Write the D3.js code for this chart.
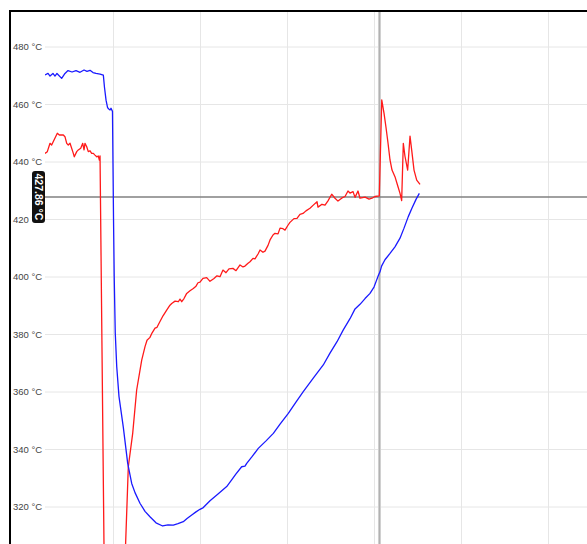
<!DOCTYPE html>
<html>
<head>
<meta charset="utf-8">
<script src="https://cdn.jsdelivr.net/npm/d3@7"></script>
<style>
  html, body { margin: 0; padding: 0; background: #fff; }
  svg { display: block; }
  text { font-family: "Liberation Sans", Arial, sans-serif; }
</style>
</head>
<body>
<svg id="chart" width="587" height="544"></svg>
<script>
// time in minutes, temperature in °C
const blueTime = [2.18,2.53,2.76,3.10,3.33,3.56,4.10,4.48,4.83,5.29,5.75,6.21,6.67,7.01,7.36,7.70,8.05,8.51,8.89,9.02,9.20,9.37,9.48,9.66,9.77,9.94,10.06,10.14,10.26,10.43,10.69,11.18,11.69,12.15,12.53,13.10,13.68,14.25,14.94,15.71,16.32,16.93,17.47,18.08,18.51,19.05,19.54,20.00,20.38,21.15,22.07,23.07,23.64,24.14,24.79,25.17,25.37,25.98,26.70,27.59,28.43,29.20,30.15,31.03,31.87,33.02,34.17,34.94,35.75,36.47,37.24,37.82,38.39,38.97,39.54,40.00,40.31,40.52,40.69,40.87,41.26,41.84,42.41,42.99,43.45,43.94,44.37,44.83,45.21];
const blueTemp = [470.3,470.8,469.9,470.8,469.9,470.8,469.1,470.8,471.8,471.3,471.8,471.2,472.0,471.5,471.9,471.1,470.8,470.6,470.2,466.0,461.5,459.0,458.5,458.1,458.7,457.6,420.0,400.0,380.5,368.8,358.4,347.9,335.2,328.2,325.0,321.3,318.5,316.6,314.5,313.4,313.8,313.7,314.2,314.9,316.0,317.2,318.3,319.2,319.8,322.2,324.5,327.1,329.4,331.5,334.0,334.2,335.2,337.5,340.4,343.0,345.6,348.8,352.6,356.5,360.1,364.8,369.4,373.5,377.5,381.6,385.5,388.9,390.5,392.5,394.3,396.5,399.0,400.7,401.8,403.8,406.0,408.2,410.5,413.5,417.0,421.0,424.0,427.0,429.1];

const redTime = [2.18,2.45,2.76,2.95,3.14,3.60,3.83,4.29,4.48,4.68,4.86,5.06,5.44,5.55,5.83,6.01,6.29,6.52,6.67,6.78,6.98,7.16,7.36,7.55,7.74,7.93,8.13,8.31,8.43,8.51,9.02,10.11,11.25,11.76,12.26,12.72,13.30,13.68,13.91,14.25,14.48,14.83,15.06,15.40,15.75,16.17,16.55,16.75,17.13,17.51,17.70,17.90,18.16,18.47,18.85,19.23,19.54,19.77,20.00,20.34,20.77,21.15,21.61,21.95,22.30,22.64,22.99,23.33,23.79,24.14,24.60,24.94,25.17,25.52,25.75,26.09,26.32,26.67,26.90,27.24,27.47,27.82,28.05,28.39,28.62,28.97,29.20,29.54,29.77,30.11,30.34,30.80,31.15,31.49,31.84,32.18,32.64,33.02,33.45,33.56,34.02,34.37,34.71,35.14,35.52,35.86,36.32,36.67,37.01,37.24,37.59,37.82,38.16,38.39,38.97,39.43,39.77,40.11,40.61,40.89,41.15,41.38,41.61,41.84,42.07,42.41,42.76,42.99,43.18,43.37,43.56,43.87,44.14,44.33,44.60,44.91,45.29];
const redTemp = [443.0,443.6,446.5,445.9,447.1,450.0,449.4,449.4,448.8,446.5,445.9,446.5,443.0,441.8,443.6,444.2,444.8,446.5,444.2,446.5,445.3,443.6,443.9,443.0,443.0,442.4,441.8,442.1,440.7,442.1,290.0,287.0,290.0,334.0,345.5,360.7,371.1,375.8,378.0,379.0,380.5,382.2,382.5,384.5,386.5,388.5,390.2,390.8,391.6,391.4,392.3,391.4,392.5,394.3,395.2,396.0,396.8,398.0,398.2,399.5,399.8,398.5,399.5,400.4,400.1,402.4,401.5,402.8,403.0,402.2,404.2,403.5,403.8,404.8,405.3,406.5,406.3,408.0,409.4,408.6,409.0,411.0,412.9,414.6,415.2,415.0,417.0,416.8,416.3,418.0,419.0,420.3,420.4,421.8,422.1,423.0,423.9,425.0,426.2,424.3,425.3,425.0,426.5,428.8,427.4,426.4,427.5,428.0,429.9,429.2,429.7,427.7,429.9,427.4,427.8,427.1,427.4,428.0,428.2,461.6,457.0,452.0,446.6,440.7,437.2,434.9,431.4,429.1,426.6,446.5,442.0,437.2,449.0,444.2,437.2,433.7,432.2];

const yTicks = [320, 340, 360, 380, 400, 420, 440, 460, 480];
const xTicks = [10, 20, 30, 40, 50, 60];
const crosshairTime = 40.63;
const crosshairTemp = 427.86;
const crosshairLabel = "427.86 °C";

const svg = d3.select("#chart");
const W = 587, H = 544;
const plotLeft = 45, plotTop = 12;

const x = d3.scaleLinear().domain([0, 60]).range([26, 548]);
const y = d3.scaleLinear().domain([320, 480]).range([507, 47]);

// clip
svg.append("defs").append("clipPath").attr("id", "clip")
  .append("rect").attr("x", plotLeft).attr("y", plotTop).attr("width", W - plotLeft).attr("height", H - plotTop);

// horizontal gridlines
svg.append("g").selectAll("line").data(yTicks).join("line")
  .attr("x1", plotLeft).attr("x2", W)
  .attr("y1", d => y(d)).attr("y2", d => y(d))
  .attr("stroke", "#e6e6e6").attr("stroke-width", 1);

// vertical gridlines
svg.append("g").selectAll("line").data(xTicks).join("line")
  .attr("x1", d => Math.round(x(d)) + 0.5).attr("x2", d => Math.round(x(d)) + 0.5)
  .attr("y1", plotTop).attr("y2", H)
  .attr("stroke", "#e6e6e6").attr("stroke-width", 1);

// y tick labels
svg.append("g").selectAll("text").data(yTicks).join("text")
  .attr("x", 13).attr("y", d => y(d))
  .attr("dy", "0.35em")
  .attr("font-size", 9.5)
  .attr("fill", "#444")
  .text(d => d + " °C");

// crosshair
const cx = x(crosshairTime), cy = y(crosshairTemp);
svg.append("line").attr("x1", cx).attr("x2", cx).attr("y1", plotTop).attr("y2", H)
  .attr("stroke", "#d0d0d0").attr("stroke-width", 3);
svg.append("line").attr("x1", cx).attr("x2", cx).attr("y1", plotTop).attr("y2", H)
  .attr("stroke", "#b0b0b0").attr("stroke-width", 1);
svg.append("line").attr("x1", plotLeft).attr("x2", W).attr("y1", cy).attr("y2", cy)
  .attr("stroke", "#808080").attr("stroke-width", 1.5);

// series
const line = d3.line().x(d => x(d[0])).y(d => y(d[1]));
const g = svg.append("g").attr("clip-path", "url(#clip)");
g.append("path").datum(d3.zip(redTime, redTemp))
  .attr("d", line).attr("fill", "none").attr("stroke", "#ff1a1a").attr("stroke-width", 1.3)
  .attr("stroke-linejoin", "round");
g.append("path").datum(d3.zip(blueTime, blueTemp))
  .attr("d", line).attr("fill", "none").attr("stroke", "#1a1aff").attr("stroke-width", 1.3)
  .attr("stroke-linejoin", "round");

// crosshair label box
const lab = svg.append("g").attr("transform", `translate(38.5, ${cy})`);
lab.append("rect").attr("x", -6.5).attr("y", -26).attr("width", 13).attr("height", 52)
  .attr("rx", 3).attr("fill", "#111");
lab.append("text").attr("transform", "rotate(90)")
  .attr("text-anchor", "middle").attr("dy", "0.36em")
  .attr("font-size", 10.5).attr("font-weight", "bold").attr("fill", "#fff")
  .text(crosshairLabel);

// frame
svg.append("line").attr("x1", 9).attr("x2", W).attr("y1", 11).attr("y2", 11)
  .attr("stroke", "#000").attr("stroke-width", 2);
svg.append("line").attr("x1", 10).attr("x2", 10).attr("y1", 10).attr("y2", H)
  .attr("stroke", "#000").attr("stroke-width", 2);
</script>
</body>
</html>
